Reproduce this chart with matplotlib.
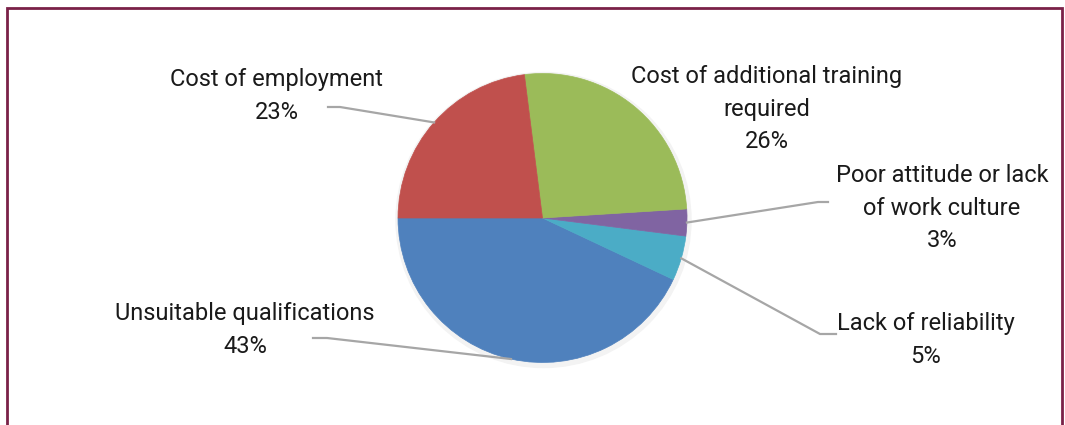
import math
import matplotlib.pyplot as plt
from matplotlib.patches import Rectangle

# data (order = drawing order, counter-clockwise from 9 o'clock)
categories = ["Unsuitable qualifications", "Lack of reliability",
              "Poor attitude or lack\nof work culture",
              "Cost of additional training\nrequired", "Cost of employment"]
shares = [43, 5, 3, 26, 23]
colors = ["#4F81BD", "#4BACC6", "#8064A2", "#9BBB59", "#C0504D"]

W, H = 1065, 425
plt.rcParams['font.family'] = ['Liberation Sans Narrow', 'Roboto', 'DejaVu Sans']

fig = plt.figure(figsize=(W / 100, H / 100), dpi=100)
ax = fig.add_axes([0, 0, 1, 1])

cx, cy, r = 542.5, H - 218, 144.5

# faint shadow
ax.add_patch(plt.Circle((cx + 1, cy - 2), r + 3, color='#f3f3f3', zorder=0))

wedges, _ = ax.pie(shares, colors=colors, startangle=180, counterclock=True,
                   center=(cx, cy), radius=r, frame=True,
                   wedgeprops=dict(linewidth=0))
for w in wedges:
    w.set_edgecolor(w.get_facecolor())
    w.set_linewidth(0.5)
ax.set_xlim(0, W)
ax.set_ylim(0, H)
ax.set_aspect('equal')
ax.axis('off')

# label layout: text centre (px from top), leader elbow, leader end
labels_pos = [
    dict(txt=(245, 330), elbow=(327, 338), end=(313, 338)),
    dict(txt=(926, 340), elbow=(820, 334), end=(836, 334)),
    dict(txt=(942, 208), elbow=(818, 202), end=(828, 202)),
    dict(txt=(767, 109), elbow=None, end=None),
    dict(txt=(277, 96), elbow=(340, 107), end=(328, 107)),
]

for w, name, val, lp in zip(wedges, categories, shares, labels_pos):
    tx, ty = lp['txt']
    ax.text(tx, H - ty, f"{name}\n{val}%", ha='center', va='center',
            fontsize=17, color='#1a1a1a', linespacing=1.55)
    if lp['elbow'] is not None:
        mid = math.radians((w.theta1 + w.theta2) / 2)
        ex, ey = cx + r * math.cos(mid), cy + r * math.sin(mid)
        bx, by = lp['elbow']
        qx, qy = lp['end']
        ax.plot([ex, bx, qx], [ey, H - by, H - qy], color='#A6A6A6',
                lw=1.6, solid_joinstyle='miter', zorder=3)

# outer frame (bottom edge is cut off)
ax.add_patch(Rectangle((7, -10), 1055, H - 8 + 10, fill=False,
                       edgecolor='#7A2148', lw=2, zorder=5))

fig.savefig('out.png', dpi=100)
